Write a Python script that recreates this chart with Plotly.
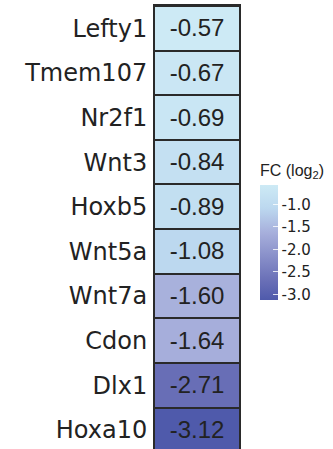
import plotly.graph_objects as go

genes = ["Lefty1", "Tmem107", "Nr2f1", "Wnt3", "Hoxb5", "Wnt5a", "Wnt7a", "Cdon", "Dlx1", "Hoxa10"]
fc_log2 = [-0.57, -0.67, -0.69, -0.84, -0.89, -1.08, -1.60, -1.64, -2.71, -3.12]
column = ["FC"]
cbar_ticks = [-1.0, -1.5, -2.0, -2.5, -3.0]

z = [[v] for v in fc_log2]

colorscale = [
    [0.0, "#4f5aab"],
    [0.16, "#686eb6"],
    [0.58, "#a6aedb"],
    [0.80, "#bcd8ef"],
    [1.0, "#cdeaf5"],
]

fig = go.Figure(go.Heatmap(
    z=z, x=column, y=genes,
    colorscale=colorscale, zmin=min(fc_log2), zmax=max(fc_log2),
    ygap=2, xgap=0,
    texttemplate="%{z:.2f}",
    textfont=dict(family="Liberation Sans, Arial", size=24, color="#222222"),
    hoverinfo="skip",
    colorbar=dict(
        title=dict(text="FC (log<sub>2</sub>)", side="top",
                   font=dict(family="Liberation Sans, Arial", size=16, color="#222222")),
        tickvals=cbar_ticks,
        ticktext=[f"{t:.1f}" for t in cbar_ticks],
        tickfont=dict(family="DejaVu Sans", size=15, color="#222222"),
        ticks="inside", ticklen=5, tickcolor="rgba(255,255,255,0.8)", tickwidth=1,
        outlinewidth=0,
        thickness=18,
        lenmode="fraction", len=0.314,
        x=1.25, xanchor="left", xpad=0,
        y=0.494, yanchor="middle", ypad=0,
    ),
))

fig.update_layout(
    width=333, height=449,
    margin=dict(l=155, r=94, t=6, b=0, autoexpand=False),
    paper_bgcolor="white",
    plot_bgcolor="#2a2a2a",
    xaxis=dict(showticklabels=False, ticks="", showgrid=False, zeroline=False,
               showline=True, mirror=True, linecolor="#2a2a2a", linewidth=2),
    yaxis=dict(range=[9.43, -0.5], autorange=False, ticks="", showgrid=False, zeroline=False,
               showline=True, mirror=True, linecolor="#2a2a2a", linewidth=2,
               ticklabelstandoff=1,
               tickfont=dict(family="DejaVu Sans", size=24, color="#222222")),
)

fig.write_html("out.html", config={"displayModeBar": False},
               post_script="document.body.style.margin='0px';")
